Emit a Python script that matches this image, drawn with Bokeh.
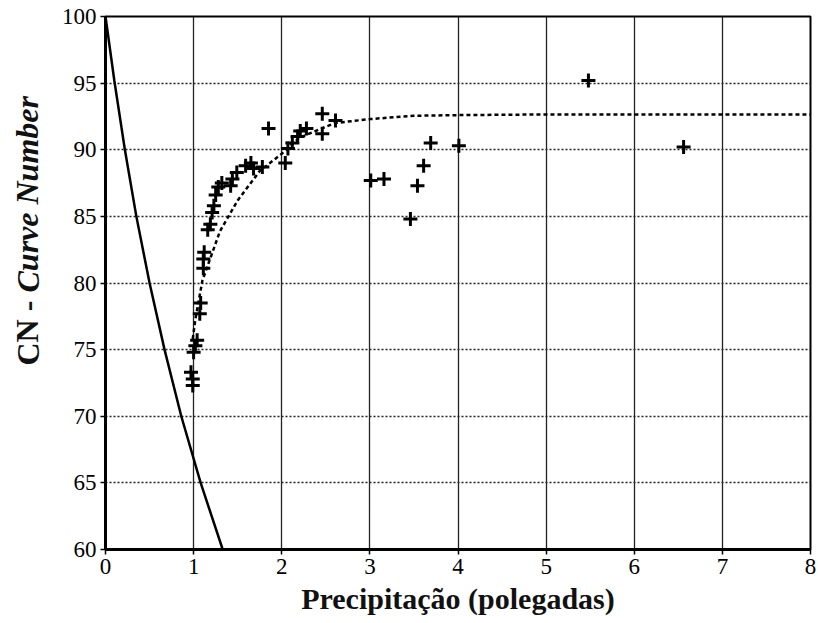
from bokeh.plotting import figure
from bokeh.layouts import row
from bokeh.models import Label, FixedTicker, Range1d
from bokeh.embed import file_html
from bokeh.resources import INLINE

# observed points (precipitation in inches, CN)
precip = [0.97, 0.99, 0.99, 1.00, 1.02, 1.04, 1.07, 1.08, 1.11, 1.11, 1.12, 1.16, 1.19, 1.21,
          1.23, 1.25, 1.28, 1.32, 1.42, 1.44, 1.49, 1.59, 1.65, 1.68, 1.78, 1.85, 2.04, 2.07,
          2.12, 2.18, 2.21, 2.28, 2.46, 2.46, 2.61, 3.01, 3.16, 3.46, 3.54, 3.61, 3.69, 4.01,
          5.48, 6.56]
cn = [73.3, 72.8, 72.3, 74.8, 75.3, 75.7, 77.7, 78.5, 81.1, 81.8, 82.3, 84.0, 84.4, 85.3,
      85.8, 86.6, 87.2, 87.5, 87.3, 87.8, 88.3, 88.8, 89.0, 88.6, 88.7, 91.6, 89.0, 90.1,
      90.5, 91.0, 91.4, 91.6, 92.7, 91.2, 92.2, 87.7, 87.8, 84.8, 87.3, 88.8, 90.5, 90.3,
      95.2, 90.2]

# solid limit curve
limit_p = [0.0, 0.10, 0.22, 0.35, 0.50, 0.67, 0.86, 1.08, 1.33]
limit_cn = [100, 95.2, 90, 85, 80, 75, 70, 65, 60]

# dashed fitted curve
fit_p = [0.99, 1.02, 1.10, 1.30, 1.50, 1.75, 2.00, 2.20, 2.60, 3.00, 3.50, 4.00, 5.00, 6.00, 7.00, 8.00]
fit_cn = [75.8, 77.3, 80.2, 83.9, 86.2, 88.4, 89.7, 90.9, 92.0, 92.3, 92.55, 92.6, 92.65, 92.65, 92.65, 92.65]

x_ticks = [0, 1, 2, 3, 4, 5, 6, 7, 8]
y_ticks = [60, 65, 70, 75, 80, 85, 90, 95, 100]

SERIF = "Liberation Serif"
LABEL_W = 45
TOP, BOTTOM = 16, 74

p = figure(width=818 - LABEL_W, height=623, output_backend="svg", toolbar_location=None,
           x_range=Range1d(0, 8), y_range=Range1d(60, 100),
           min_border_left=105 - LABEL_W, min_border_right=8, min_border_top=TOP, min_border_bottom=BOTTOM)
p.background_fill_color = "white"
p.border_fill_color = "white"
p.outline_line_color = "black"
p.outline_line_width = 2

p.xaxis.ticker = FixedTicker(ticks=x_ticks)
p.yaxis.ticker = FixedTicker(ticks=y_ticks)
p.axis.axis_line_width = 3
p.axis.axis_line_color = "black"
p.axis.major_tick_in = 0
p.axis.major_tick_out = 5
p.axis.major_tick_line_color = "black"
p.axis.major_tick_line_width = 1.5
p.axis.minor_tick_line_color = None
p.axis.major_label_text_font = SERIF
p.axis.major_label_text_font_style = "normal"
p.axis.major_label_text_font_size = "23px"
p.axis.major_label_text_color = "black"
p.axis.major_label_standoff = 4

p.xaxis.axis_label = "Precipitação (polegadas)"
p.xaxis.axis_label_text_font = SERIF
p.xaxis.axis_label_text_font_style = "bold"
p.xaxis.axis_label_text_font_size = "30px"
p.xaxis.axis_label_text_color = "#111111"
p.xaxis.axis_label_standoff = 5

p.xgrid.grid_line_color = "#222222"
p.xgrid.grid_line_width = 1.3
p.ygrid.grid_line_color = "#222222"
p.ygrid.grid_line_width = 1.3
p.ygrid.grid_line_dash = "2 2"

p.line(limit_p, limit_cn, line_color="black", line_width=2.5)
p.line(fit_p, fit_cn, line_color="black", line_width=2.5, line_dash="4 3")
p.scatter(precip, cn, marker="cross", size=14, line_color="black", line_width=3)

# narrow strip holding the rotated y-axis title (its frame is aligned with the plot frame)
ylab = figure(width=LABEL_W, height=623, output_backend="svg", toolbar_location=None,
              x_axis_location=None, y_axis_location=None,
              x_range=Range1d(0, LABEL_W), y_range=Range1d(BOTTOM, 623 - TOP),
              min_border=0, min_border_left=0, min_border_right=0,
              min_border_top=TOP, min_border_bottom=BOTTOM)
ylab.grid.visible = False
ylab.outline_line_color = None
ylab.background_fill_color = "white"
ylab.border_fill_color = "white"
ylab.add_layout(Label(x=27, y=623 - 365, text="CN -", angle=1.5708,
                      text_font=SERIF, text_font_size="32px", text_font_style="bold",
                      text_color="#111111", text_align="left", text_baseline="middle"))
ylab.add_layout(Label(x=27, y=623 - 292, text="Curve Number", angle=1.5708,
                      text_font=SERIF, text_font_size="32px", text_font_style="bold italic",
                      text_color="#111111", text_align="left", text_baseline="middle"))

layout = row(ylab, p, spacing=0)
open("out.html", "w").write(file_html(layout, INLINE))
